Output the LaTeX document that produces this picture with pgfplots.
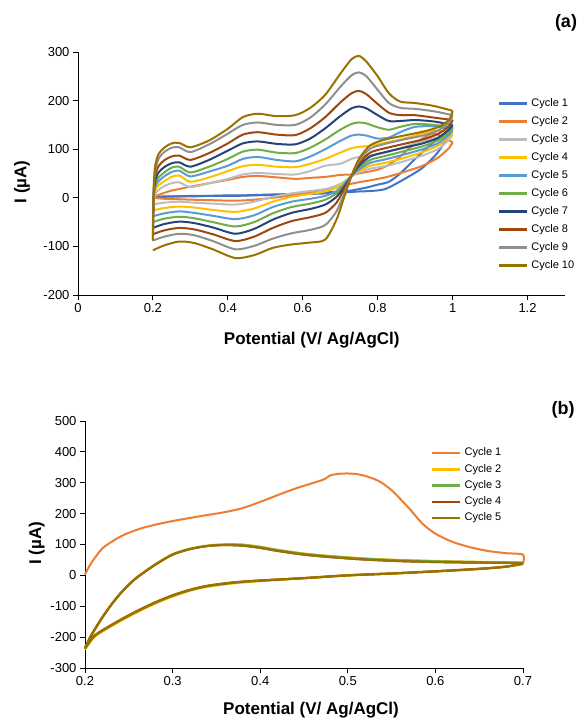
\documentclass[border=0pt]{standalone}
\usepackage{fontspec}
\setmainfont{Liberation Sans}
\usepackage{pgfplots}
\usepackage{pgfplotstable}
\pgfplotsset{compat=1.18}

\definecolor{cyA}{HTML}{4472C4}
\definecolor{cyB}{HTML}{ED7D31}
\definecolor{cyC}{HTML}{BDBDBD}
\definecolor{cyD}{HTML}{FFC000}
\definecolor{cyE}{HTML}{5B9BD5}
\definecolor{cyF}{HTML}{70AD47}
\definecolor{cyG}{HTML}{264478}
\definecolor{cyH}{HTML}{9E480E}
\definecolor{cyI}{HTML}{8F8F8F}
\definecolor{cyJ}{HTML}{997300}

% panel (a): forward scan 0.2 -> 1.0, return scan 1.0 -> 0.2
\pgfplotstableread{
x c1 c2 c3 c4 c5 c6 c7 c8 c9 c10
0.2 2 0 -14 -26 -38 -50 -62 -75 -88 -108
0.23 2 -2 -10 -21 -32 -43 -54 -67 -80 -98
0.27 3 -3 -8 -18 -28 -39 -49 -62 -74 -90
0.31 3 -4 -10 -20 -31 -42 -52 -65 -77 -93
0.36 4 -5 -12 -25 -37 -50 -61 -75 -89 -106
0.42 4 -6 -14 -29 -44 -59 -74 -89 -106 -124
0.47 5 -4 -8 -22 -36 -50 -64 -80 -99 -118
0.52 6 0 2 -8 -19 -32 -45 -62 -84 -103
0.57 7 5 9 2 -8 -19 -31 -48 -73 -96
0.62 8 12 14 8 -2 -12 -23 -40 -66 -92
0.66 9 17 18 13 4 -4 -14 -31 -56 -86
0.69 10 21 25 21 14 9 2 -10 -28 -45
0.71 11 25 33 31 28 25 22 17 8 0
0.73 12 29 44 45 45 45 45 45 45 45
0.75 13 32 52 55 58 62 66 70 76 80
0.78 14 36 60 66 72 78 85 93 101 108
0.82 18 42 65 72 79 86 94 102 111 120
0.87 38 53 75 82 89 96 103 111 120 128
0.92 62 66 87 94 100 106 112 120 128 136
0.96 93 82 100 107 112 118 123 131 138 145
0.99 130 102 119 125 129 134 140 147 154 160
1.0 145 114 130 135 140 145 150 160 170 179
}\fwdA

\pgfplotstableread{
x c1 c2 c3 c4 c5 c6 c7 c8 c9 c10
1.0 145 114 130 135 140 145 150 160 170 179
0.95 115 132 122 138 147 150 157 165 178 189
0.90 80 112 112 128 146 152 160 170 183 195
0.86 50 85 102 120 135 146 158 170 185 198
0.83 33 68 95 115 124 140 158 175 195 215
0.80 27 58 90 110 122 145 170 193 222 250
0.77 21 53 86 106 128 153 184 213 250 280
0.75 18 50 84 105 130 155 188 220 258 292
0.73 15 48 80 102 128 152 184 215 252 285
0.70 13 47 70 93 117 140 168 196 228 255
0.66 11 43 66 80 100 120 143 166 192 212
0.62 9 41 55 70 85 103 122 143 165 185
0.58 8 39 48 63 75 92 110 129 150 170
0.53 7 42 49 64 78 93 111 130 150 168
0.48 6 45 51 68 84 99 116 135 155 173
0.44 5 43 48 65 80 95 112 130 150 166
0.40 5 37 39 55 66 80 97 112 132 142
0.35 4 30 30 42 54 64 78 92 110 118
0.30 4 23 22 33 44 52 64 78 94 104
0.27 3 18 32 46 56 64 73 87 104 113
0.25 3 15 30 43 53 62 71 85 103 112
0.23 3 10 24 34 44 52 63 77 94 103
0.215 2 6 16 26 34 42 52 65 80 90
0.206 2 3 8 15 22 28 35 45 55 65
0.202 2 1 -5 -5 -3 0 5 10 15 20
0.2 2 0 -14 -26 -38 -50 -62 -75 -88 -88
}\revA

% panel (b)
\pgfplotstableread{
x c2 c3 c4 c5
0.2 -240 -238 -236 -236
0.205 -208 -206 -205 -204
0.21 -183 -181 -180 -179
0.22 -137 -136 -135 -134
0.23 -96 -96 -95 -94
0.24 -60 -61 -60 -59
0.25 -29 -30 -31 -30
0.26 -4 -5 -6 -5
0.28 36 35 34 34
0.30 69 68 67 67
0.32 87 86 85 85
0.34 97 96 95 95
0.36 101 100 98 98
0.38 100 99 96 96
0.40 93 92 89 89
0.42 83 82 79 79
0.45 71 70 67 67
0.48 63 62 59 59
0.52 55 54 51 51
0.56 50 49 46 46
0.60 47 46 43 43
0.65 44 43 41 41
0.70 42 41 40 40
}\fwdB

\pgfplotstableread{
x c1 c2 c3 c4 c5
0.70 38 36 37 38 38
0.68 29 27 28 28 28
0.65 22 20 21 21 21
0.60 14 12 13 13 13
0.55 7 5 6 6 6
0.50 1 -1 0 0 0
0.45 -8 -10 -9 -9 -9
0.40 -16 -19 -17 -17 -17
0.37 -22 -26 -24 -23 -23
0.34 -33 -37 -35 -34 -34
0.32 -46 -50 -48 -47 -47
0.30 -64 -69 -66 -65 -65
0.28 -87 -92 -89 -88 -88
0.26 -114 -119 -116 -115 -115
0.24 -144 -149 -146 -145 -145
0.22 -177 -182 -179 -178 -178
0.21 -197 -202 -199 -198 -198
0.20 -233 -240 -238 -236 -236
}\revB

\pgfplotsset{
  cvaxis/.style={
    scale only axis, clip=false, enlargelimits=false,
    axis lines=left, axis line style={-, line width=0.9pt},
    tick align=outside, major tick length=5pt,
    tick style={line width=0.9pt, black},
    ticklabel style={font=\fontsize{13}{15}\selectfont},
    /pgf/number format/assume math mode=true,
    label style={font=\bfseries\fontsize{17}{20}\selectfont},
    legend cell align=left,
    legend style={draw=none, fill=none, inner sep=0pt, column sep=3pt,
      font=\fontsize{11}{13}\selectfont,
      nodes={inner sep=0pt, text height=8pt, text depth=2.5pt}},
    legend image code/.code={\draw[##1, line width=2.4pt] (0pt,0pt) -- (28pt,0pt);},
    every axis plot/.append style={line width=2pt, smooth, tension=0.45},
  },
}

\begin{document}
\begin{tikzpicture}
\useasboundingbox (0,0) rectangle (581pt,721pt);

\begin{axis}[cvaxis,
  at={(78pt,426pt)}, anchor=south west, width=487pt, height=243pt,
  xmin=0, xmax=1.3, ymin=-200, ymax=300,
  xtick={0,0.2,0.4,0.6,0.8,1,1.2}, ytick={-200,-100,0,100,200,300},
  xlabel={Potential (V/ Ag/AgCl)}, ylabel={I (µA)},
  xlabel style={at={(axis description cs:0.48,-0.185)}, anchor=center},
  ylabel style={at={(axis description cs:-0.115,0.465)}, anchor=center},
  legend style={at={(axis description cs:0.862,0.811)}, anchor=north west, row sep=7.5pt},
]
\foreach \k/\c in {1/cyA,2/cyB,3/cyC,4/cyD,5/cyE,6/cyF,7/cyG,8/cyH,9/cyI,10/cyJ}{
  \edef\tmp{\noexpand\addplot[color=\c] table[x=x,y=c\k]{\noexpand\fwdA};
    \noexpand\addplot[color=\c, forget plot] table[x=x,y=c\k]{\noexpand\revA};}
  \tmp
}
\legend{Cycle 1,Cycle 2,Cycle 3,Cycle 4,Cycle 5,Cycle 6,Cycle 7,Cycle 8,Cycle 9,Cycle 10}
\end{axis}
\node[font=\bfseries\fontsize{18}{20}\selectfont] at (566pt,698pt) {(a)};

\begin{axis}[cvaxis,
  at={(85pt,53pt)}, anchor=south west, width=438pt, height=247pt,
  xmin=0.2, xmax=0.7, ymin=-300, ymax=500,
  xtick={0.2,0.3,0.4,0.5,0.6,0.7}, ytick={-300,-200,-100,0,100,200,300,400,500},
  xlabel={Potential (V/ Ag/AgCl)}, ylabel={I (µA)},
  xlabel style={at={(axis description cs:0.516,-0.17)}, anchor=center},
  ylabel style={at={(axis description cs:-0.11,0.506)}, anchor=center},
  legend style={at={(axis description cs:0.79,0.892)}, anchor=north west, row sep=5.75pt},
]
\addplot[color=cyB] coordinates {
  (0.2,3) (0.205,30) (0.21,52) (0.22,88) (0.23,108) (0.24,125) (0.25,138)
  (0.265,153) (0.28,164) (0.30,176) (0.33,191) (0.36,205) (0.38,218) (0.40,238)
  (0.42,260) (0.44,281) (0.46,299) (0.47,308) (0.475,314) (0.48,324) (0.49,329)
  (0.50,330) (0.51,328) (0.52,322) (0.535,306) (0.55,276) (0.57,217) (0.585,168)
  (0.60,135) (0.62,108) (0.64,91) (0.66,79) (0.68,72) (0.70,67) (0.70,38)};
\addplot[color=cyB, forget plot] table[x=x,y=c1]{\revB};
\foreach \k/\c in {2/cyD,3/cyF,4/cyH,5/cyJ}{
  \edef\tmp{\noexpand\addplot[color=\c] table[x=x,y=c\k]{\noexpand\fwdB};
    \noexpand\addplot[color=\c, forget plot] table[x=x,y=c\k]{\noexpand\revB};}
  \tmp
}
\legend{Cycle 1,Cycle 2,Cycle 3,Cycle 4,Cycle 5}
\end{axis}
\node[font=\bfseries\fontsize{18}{20}\selectfont] at (563pt,311pt) {(b)};
\end{tikzpicture}
\end{document}
